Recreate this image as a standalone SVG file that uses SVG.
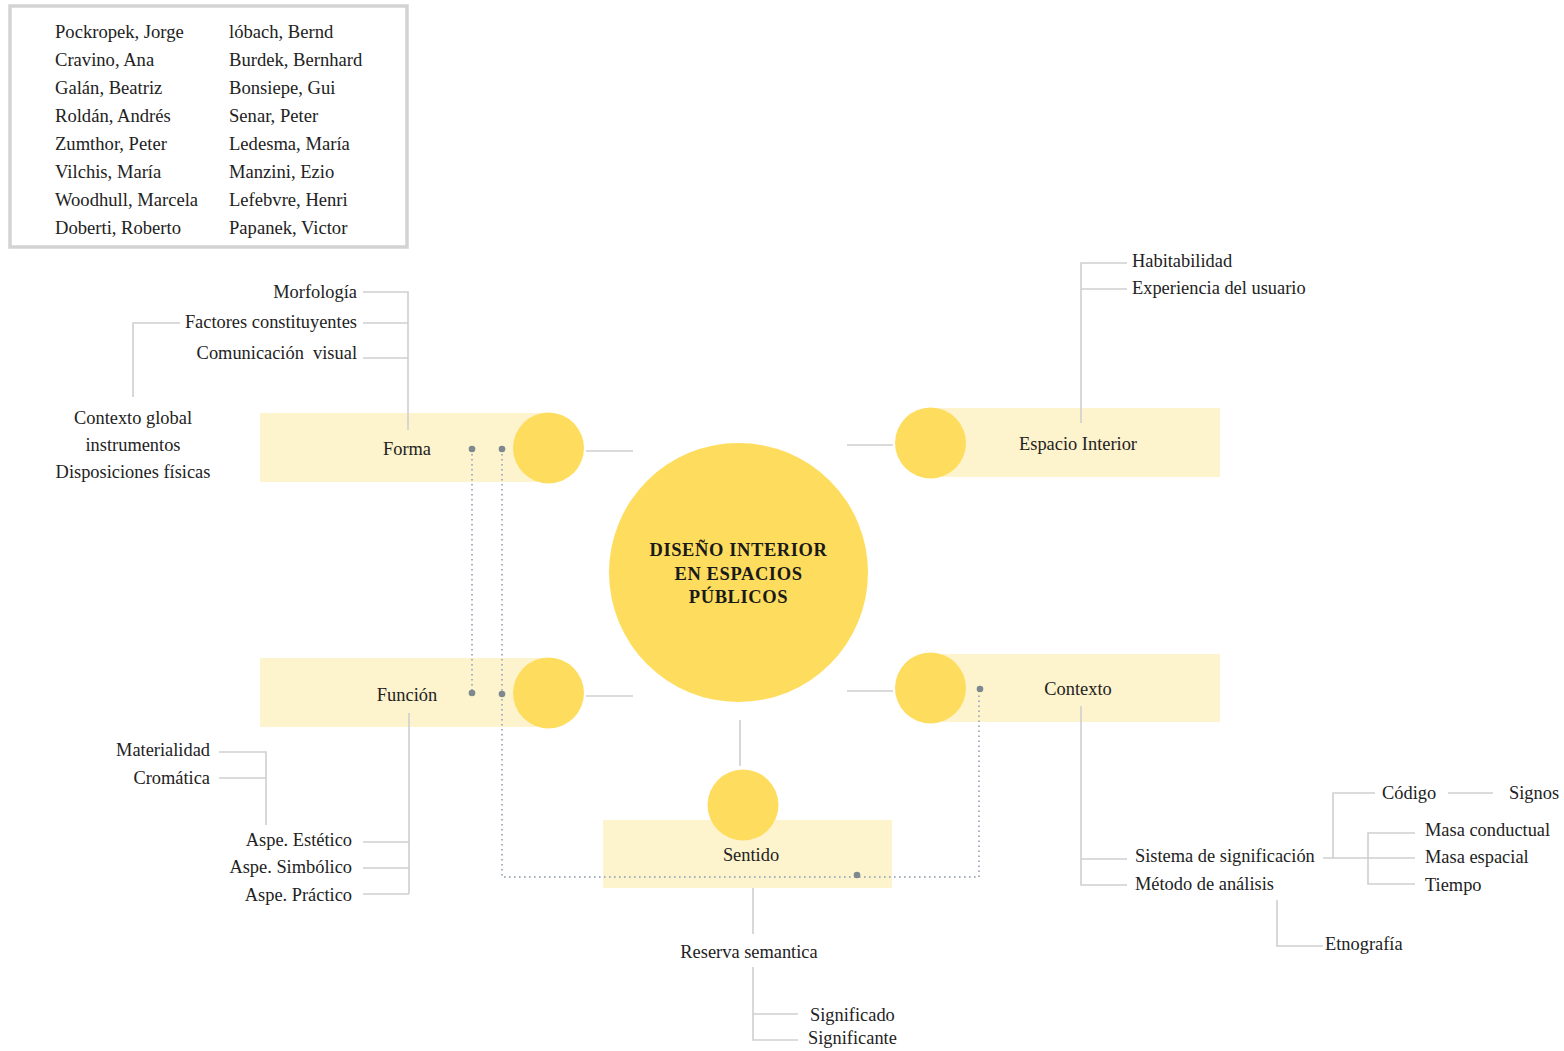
<svg xmlns="http://www.w3.org/2000/svg" width="1564" height="1051" viewBox="0 0 1564 1051">
<style>
text{font-family:"Liberation Serif","Times New Roman",serif;font-size:18.4px;fill:#222;white-space:pre}
.a{font-size:18.6px}
.m{text-anchor:middle}
.e{text-anchor:end}
.t{font-weight:bold;font-size:18.5px;letter-spacing:0.6px;fill:#1a1a1a}
.ln{stroke:#cfcfcf;stroke-width:1.6;fill:none}
.dot{stroke:#a6b2bd;stroke-width:2;stroke-dasharray:1.6 3.4;fill:none}
.band{fill:#fdf3cc}
.c{fill:#fedd5e}
.pt{fill:#7d898f}
</style>
<rect width="1564" height="1051" fill="#fff"/>

<g id="authors">
<rect x="10" y="6" width="397" height="241" fill="#fff" stroke="#d3d3d3" stroke-width="3.5"/>
<text class="a" x="55" y="38">Pockropek, Jorge</text>
<text class="a" x="55" y="66">Cravino, Ana</text>
<text class="a" x="55" y="94">Galán, Beatriz</text>
<text class="a" x="55" y="122">Roldán, Andrés</text>
<text class="a" x="55" y="150">Zumthor, Peter</text>
<text class="a" x="55" y="178">Vilchis, María</text>
<text class="a" x="55" y="206">Woodhull, Marcela</text>
<text class="a" x="55" y="234">Doberti, Roberto</text>
<text class="a" x="229" y="38">lóbach, Bernd</text>
<text class="a" x="229" y="66">Burdek, Bernhard</text>
<text class="a" x="229" y="94">Bonsiepe, Gui</text>
<text class="a" x="229" y="122">Senar, Peter</text>
<text class="a" x="229" y="150">Ledesma, María</text>
<text class="a" x="229" y="178">Manzini, Ezio</text>
<text class="a" x="229" y="206">Lefebvre, Henri</text>
<text class="a" x="229" y="234">Papanek, Victor</text>
</g>

<g id="forma">
<rect class="band" x="260" y="413" width="289" height="69"/>
<circle class="c" cx="548.5" cy="448" r="35.5"/>
<text class="m" x="407" y="455">Forma</text>
</g>

<g id="funcion">
<rect class="band" x="260" y="658" width="289" height="69"/>
<circle class="c" cx="548.5" cy="693" r="35.5"/>
<text class="m" x="407" y="701">Función</text>
</g>

<g id="espacio-interior">
<rect class="band" x="930" y="408" width="290" height="69"/>
<circle class="c" cx="930.5" cy="443" r="35.5"/>
<text class="m" x="1078" y="450">Espacio Interior</text>
</g>

<g id="contexto">
<rect class="band" x="930" y="654" width="290" height="68"/>
<circle class="c" cx="930.5" cy="688" r="35.5"/>
<text class="m" x="1078" y="695">Contexto</text>
</g>

<g id="sentido">
<rect class="band" x="603" y="820" width="289" height="68"/>
<circle class="c" cx="743" cy="805" r="35.5"/>
<text class="m" x="751" y="861">Sentido</text>
</g>

<g id="center">
<circle class="c" cx="738.5" cy="572.5" r="129.5"/>
<text class="m t" x="738.5" y="556">DISEÑO INTERIOR</text>
<text class="m t" x="738.5" y="580">EN ESPACIOS</text>
<text class="m t" x="738.5" y="603">PÚBLICOS</text>
</g>

<g id="connectors">
<path class="ln" d="M363 292H408V430M363 323H408M363 358H408"/>
<path class="ln" d="M180 323H133V397"/>
<line class="ln" x1="586" y1="451" x2="633" y2="451"/>
<line class="ln" x1="586" y1="696" x2="633" y2="696"/>
<path class="ln" d="M409 713V894M363 842H409M363 868H409M363 894H409"/>
<path class="ln" d="M219 752H266V825M219 778H266"/>
<line class="ln" x1="847" y1="445" x2="893" y2="445"/>
<path class="ln" d="M1127 263H1081V423M1081 289H1127"/>
<line class="ln" x1="847" y1="691" x2="893" y2="691"/>
<path class="ln" d="M1081 706V885H1127M1081 859H1127"/>
<path class="ln" d="M1323 858H1415M1333 858V793H1375M1448 793H1493"/>
<path class="ln" d="M1415 833H1368V884H1415"/>
<path class="ln" d="M1277 900V946H1323"/>
<line class="ln" x1="740" y1="720" x2="740" y2="766"/>
<line class="ln" x1="753" y1="888" x2="753" y2="934"/>
<path class="ln" d="M753 967V1040H798M753 1014H798"/>
</g>

<g id="dotted-links">
<path class="dot" d="M472 449V693"/>
<path class="dot" d="M502 449V877H979V689"/>
<circle class="pt" cx="472" cy="449" r="3.3"/>
<circle class="pt" cx="502" cy="449" r="3.3"/>
<circle class="pt" cx="472" cy="693" r="3.3"/>
<circle class="pt" cx="502" cy="694" r="3.3"/>
<circle class="pt" cx="980" cy="689" r="3.3"/>
<circle class="pt" cx="857" cy="875" r="3.3"/>
</g>

<g id="labels">
<text class="e" x="357" y="298">Morfología</text>
<text class="e" x="357" y="328">Factores constituyentes</text>
<text class="e" x="357" y="359">Comunicación  visual</text>
<text class="m" x="133" y="424">Contexto global</text>
<text class="m" x="133" y="451">instrumentos</text>
<text class="m" x="133" y="478">Disposiciones físicas</text>
<text class="e" x="210" y="756">Materialidad</text>
<text class="e" x="210" y="784">Cromática</text>
<text class="e" x="352" y="846">Aspe. Estético</text>
<text class="e" x="352" y="873">Aspe. Simbólico</text>
<text class="e" x="352" y="901">Aspe. Práctico</text>
<text x="1132" y="267">Habitabilidad</text>
<text x="1132" y="294">Experiencia del usuario</text>
<text x="1135" y="862">Sistema de significación</text>
<text x="1135" y="890">Método de análisis</text>
<text x="1382" y="799">Código</text>
<text x="1509" y="799">Signos</text>
<text x="1425" y="836">Masa conductual</text>
<text x="1425" y="863">Masa espacial</text>
<text x="1425" y="891">Tiempo</text>
<text x="1325" y="950">Etnografía</text>
<text class="m" x="749" y="958">Reserva semantica</text>
<text x="810" y="1021">Significado</text>
<text x="808" y="1044">Significante</text>
</g>
</svg>
